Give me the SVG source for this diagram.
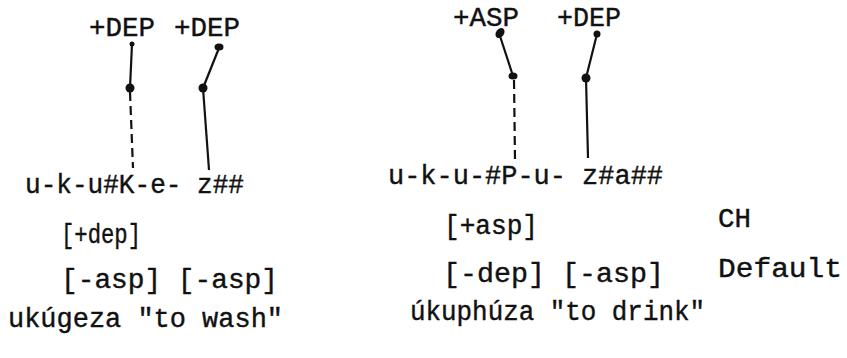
<svg xmlns="http://www.w3.org/2000/svg" width="847" height="358" viewBox="0 0 847 358">
<style>
text{font-family:"Liberation Mono","Courier New",monospace;font-size:27px;fill:#111;stroke:#111;stroke-width:0.4}
.ln{stroke:#111;stroke-width:2.2;fill:none}
.ds{stroke:#111;stroke-width:2.2;fill:none;stroke-dasharray:9 5}
.dot{fill:#111}
</style>
<rect width="847" height="358" fill="#fff"/>
<g id="left-features">
<text x="89" y="36" textLength="66" lengthAdjust="spacingAndGlyphs">+DEP</text>
<text x="174" y="36" textLength="66" lengthAdjust="spacingAndGlyphs">+DEP</text>
</g>
<g id="left-string">
<text x="25" y="193" textLength="219" lengthAdjust="spacingAndGlyphs">u-k-u#K-e- z##</text>
</g>
<g id="right-features">
<text x="453" y="26" textLength="66" lengthAdjust="spacingAndGlyphs">+ASP</text>
<text x="557" y="26" textLength="64" lengthAdjust="spacingAndGlyphs">+DEP</text>
</g>
<g id="right-string">
<text x="388" y="184" textLength="275" lengthAdjust="spacingAndGlyphs">u-k-u-#P-u- z#a##</text>
</g>
<g id="left-notes">
<text x="61" y="243" textLength="80" lengthAdjust="spacingAndGlyphs">[+dep]</text>
<text x="61" y="288" textLength="217" lengthAdjust="spacingAndGlyphs">[-asp] [-asp]</text>
<text x="8" y="327" textLength="275" lengthAdjust="spacingAndGlyphs">ukúgeza "to wash"</text>
</g>
<g id="right-notes">
<text x="444" y="234" textLength="94" lengthAdjust="spacingAndGlyphs">[+asp]</text>
<text x="718" y="227" textLength="33" lengthAdjust="spacingAndGlyphs">CH</text>
<text x="443" y="282" textLength="221" lengthAdjust="spacingAndGlyphs">[-dep] [-asp]</text>
<text x="718" y="277" textLength="124" lengthAdjust="spacingAndGlyphs">Default</text>
<text x="410" y="320" textLength="295" lengthAdjust="spacingAndGlyphs">úkuphúza "to drink"</text>
</g>
<g id="connectors">
<line class="ln" x1="132" y1="44" x2="130" y2="88"/>
<line class="ds" x1="130" y1="92" x2="133" y2="168"/>
<circle class="dot" cx="132" cy="44" r="2.5"/>
<circle class="dot" cx="130" cy="88" r="4.5"/>
<line class="ln" x1="219" y1="48" x2="203" y2="88"/>
<line class="ln" x1="203" y1="88" x2="209" y2="170"/>
<ellipse class="dot" cx="219" cy="47" rx="4.5" ry="3.5"/>
<circle class="dot" cx="203" cy="88" r="4.5"/>
<line class="ln" x1="499" y1="33" x2="513" y2="76"/>
<line class="ds" x1="514" y1="80" x2="515" y2="160"/>
<ellipse class="dot" cx="500" cy="33" rx="4" ry="5.5" transform="rotate(35 500 33)"/>
<ellipse class="dot" cx="513" cy="76" rx="4.5" ry="3.5"/>
<line class="ln" x1="597" y1="34" x2="586" y2="78"/>
<line class="ln" x1="586" y1="78" x2="588" y2="158"/>
<circle class="dot" cx="597" cy="34" r="3.5"/>
<circle class="dot" cx="586" cy="78" r="4.5"/>
</g>
</svg>
